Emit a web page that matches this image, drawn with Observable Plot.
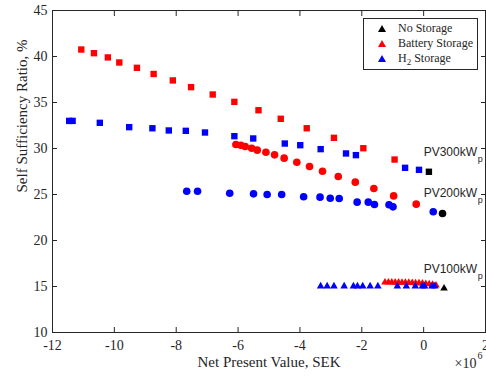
<!DOCTYPE html>
<html><head><meta charset="utf-8">
<script src="https://cdn.jsdelivr.net/npm/d3@7"></script>
<script src="https://cdn.jsdelivr.net/npm/@observablehq/plot@0.6"></script>
<style>
body{margin:0;background:#fff;}
#wrap{position:relative;width:486px;height:376px;}
#legend{position:absolute;left:363px;top:18px;width:115px;height:52px;border:1px solid #262626;background:#fff;font-family:"Liberation Serif","Times New Roman",Times,serif;font-size:12px;color:#262626;box-sizing:border-box;}
.row{position:absolute;left:0;height:15px;line-height:15px;white-space:nowrap;}
.row svg{position:absolute;left:14px;top:4px;}
.row span{position:absolute;left:34px;top:0;}
sub{font-size:9px;vertical-align:-3px;line-height:0;}
</style></head>
<body><div id="wrap"></div>
<script>
// Tick values
const xTicks = [-12, -10, -8, -6, -4, -2, 0, 2];
const yTicks = [10, 15, 20, 25, 30, 35, 40, 45];
const xLabel = "Net Present Value, SEK";
const yLabel = "Self Sufficiency Ratio, %";
const legendNames = ["No Storage", "Battery Storage", "H<sub>2</sub> Storage"];
const legendColors = ["#000000", "#ff0000", "#0000ff"];

// PV 300 kWp (squares), NPV in 1e6 SEK
const batt300X = [-11.07,-10.66,-10.21,-9.84,-9.27,-8.73,-8.11,-7.52,-6.82,-6.12,-5.34,-4.62,-3.78,-2.90,-1.95,-0.94];
const batt300Y = [40.76,40.36,39.9,39.35,38.77,38.1,37.4,36.67,35.87,35.07,34.16,33.23,32.2,31.16,30.03,28.8];
const h2300X = [-11.46,-11.35,-10.47,-9.52,-8.77,-8.24,-7.69,-7.07,-6.12,-5.51,-4.49,-3.99,-3.33,-2.51,-2.19,-0.60,-0.15];
const h2300Y = [33.0,33.0,32.79,32.32,32.2,31.96,31.92,31.74,31.34,31.09,30.54,30.36,29.93,29.46,29.28,27.9,27.68];
const none300X = [0.17];
const none300Y = [27.47];

// PV 200 kWp (circles)
const batt200X = [-6.07,-5.91,-5.77,-5.56,-5.38,-5.10,-4.82,-4.51,-4.10,-3.69,-3.27,-2.76,-2.21,-1.61,-0.97,-0.24];
const batt200Y = [30.43,30.36,30.22,30.03,29.82,29.60,29.31,28.95,28.51,28.04,27.53,26.96,26.34,25.65,24.85,23.95];
const h2200X = [-7.66,-7.31,-6.27,-5.5,-5.06,-4.59,-3.88,-3.35,-3.02,-2.73,-2.15,-1.79,-1.59,-1.12,-0.99,0.31];
const h2200Y = [25.36,25.36,25.14,25.07,25.0,25.0,24.75,24.71,24.60,24.57,24.17,24.17,23.91,23.88,23.66,23.12];
const none200X = [0.61];
const none200Y = [22.93];

// PV 100 kWp (triangles)
const batt100X = [-1.25,-1.14,-1.03,-0.92,-0.81,-0.70,-0.59,-0.48,-0.37,-0.26,-0.15,-0.04,0.07,0.18,0.29,0.40];
const batt100Y = [15.45,15.45,15.45,15.44,15.44,15.43,15.42,15.41,15.40,15.38,15.36,15.34,15.3,15.26,15.2,15.12];
const h2100X = [-3.33,-3.12,-2.90,-2.57,-2.27,-2.14,-1.97,-1.73,-1.48,-0.85,-0.56,-0.27,-0.04,0.03,0.27,0.36];
const h2100Y = [15.03,15.03,15.03,15.03,15.03,15.03,15.03,15.03,15.03,15.03,15.03,15.03,15.03,15.03,15.03,15.03];
const none100X = [0.66];
const none100Y = [14.8];

// PV labels
const pvNames = ["PV300kW", "PV200kW", "PV100kW"];
const pvX = [0, 0, 0];
const pvY = [29.6, 25.2, 16.9];

const zip = (xs, ys) => xs.map((x, i) => ({x, y: ys[i]}));
const pvData = pvNames.map((t, i) => ({t, x: pvX[i], y: pvY[i]}));

function dots(xs, ys, symbol, fill, r) {
  return Plot.dot(zip(xs, ys), {x: "x", y: "y", symbol, fill, r, stroke: "none"});
}

const ink = "#262626";
const serif = "'Liberation Serif', 'Times New Roman', Times, serif";
const sans = "'Liberation Sans', Arial, Helvetica, sans-serif";
const chart = Plot.plot({
  width: 486, height: 376,
  marginLeft: 52, marginRight: 1, marginTop: 10, marginBottom: 44,
  style: {fontFamily: serif, fontSize: "14px", color: ink, background: "#fff"},
  x: {domain: [-12, 2]},
  y: {domain: [10, 45]},
  marks: [
    dots(batt300X, batt300Y, "square", "#ff0000", 3.6),
    dots(h2300X, h2300Y, "square", "#0000ff", 3.6),
    dots(none300X, none300Y, "square", "#000000", 3.6),
    dots(batt200X, batt200Y, "circle", "#ff0000", 3.8),
    dots(h2200X, h2200Y, "circle", "#0000ff", 3.8),
    dots(none200X, none200Y, "circle", "#000000", 3.8),
    dots(batt100X, batt100Y, "triangle", "#ff0000", 2.8),
    dots(h2100X, h2100Y, "triangle", "#0000ff", 2.8),
    dots(none100X, none100Y, "triangle", "#000000", 2.8),
    Plot.text(pvData, {x: "x", y: "y", text: "t", textAnchor: "start", fontFamily: sans, fontSize: 12, fill: ink}),
    Plot.text(pvData, {x: "x", y: "y", text: () => "p", textAnchor: "start", dx: 54, dy: 7, fontFamily: sans, fontSize: 9, fill: ink}),
    Plot.frame({stroke: ink}),
    Plot.axisX(xTicks, {anchor: "bottom", tickSize: -5, fill: "none", stroke: ink, label: null}),
    Plot.axisX(xTicks, {anchor: "top", tickSize: -5, fill: "none", stroke: ink, label: null}),
    Plot.axisX(xTicks, {anchor: "bottom", tickSize: 0, tickPadding: 8, fill: ink, label: null, tickFormat: d => String(d)}),
    Plot.axisY(yTicks, {anchor: "left", tickSize: -5, fill: "none", stroke: ink, label: null}),
    Plot.axisY(yTicks, {anchor: "right", tickSize: -5, fill: "none", stroke: ink, label: null}),
    Plot.axisY(yTicks, {anchor: "left", tickSize: 0, tickPadding: 5, fill: ink, label: null, tickFormat: d => String(d)}),
    Plot.text([xLabel], {frameAnchor: "bottom", dy: 34, text: d => d, fontSize: 15, fill: ink}),
    Plot.text([yLabel], {frameAnchor: "left", dx: -30, dy: 21, rotate: -90, text: d => d, fontSize: 15, fill: ink}),
    Plot.text(["×10"], {frameAnchor: "bottom-right", dx: -9, dy: 35, textAnchor: "end", text: d => d, fontSize: 14, fill: ink}),
    Plot.text(["6"], {frameAnchor: "bottom-right", dx: -8, dy: 26, textAnchor: "start", text: d => d, fontSize: 10, fill: ink})
  ]
});
const wrap = document.getElementById("wrap");
wrap.appendChild(chart);

// legend overlay
const leg = document.createElement("div");
leg.id = "legend";
legendNames.forEach((name, i) => {
  const row = document.createElement("div");
  row.className = "row";
  row.style.top = (2 + i * 14.8) + "px";
  row.innerHTML = `<svg width="8" height="7"><polygon points="4,0 8,7 0,7" fill="${legendColors[i]}"/></svg><span>${name}</span>`;
  leg.appendChild(row);
});
wrap.appendChild(leg);
</script>
</body></html>
